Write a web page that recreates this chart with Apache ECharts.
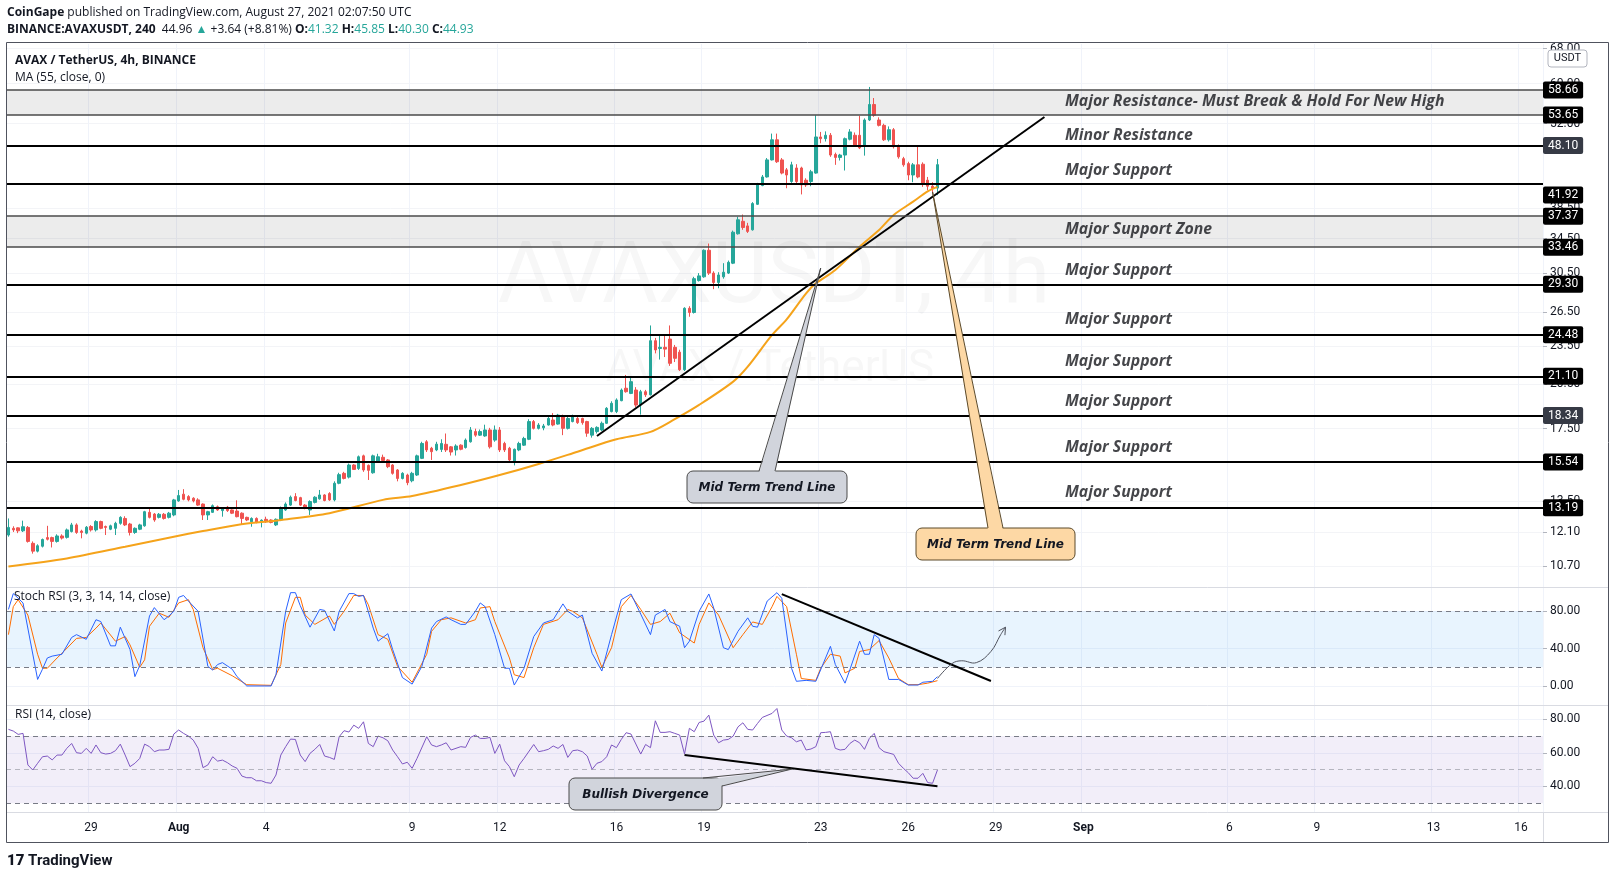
<!DOCTYPE html>
<html>
<head>
<meta charset="utf-8">
<script src="https://cdn.jsdelivr.net/npm/echarts@6/dist/echarts.min.js"></script>
<style>
  html, body { margin: 0; padding: 0; background: #fff; }
  #chart { width: 1615px; height: 878px; }
</style>
</head>
<body>
<div id="chart"></div>
<script>
// 4h candles, Jul 26 04:00 UTC onwards, [open, high, low, close]
const startTime = Date.UTC(2021, 6, 26, 4);
const slotCount = 316;
const candles = [
  [11.97,12.70,11.90,12.30],[12.26,12.35,12.10,12.19],[12.28,12.30,12.05,12.15],[12.15,12.60,12.10,12.33],
  [12.30,12.36,11.65,11.70],[11.62,11.70,11.20,11.30],[11.30,11.58,11.25,11.52],[11.50,11.82,11.45,11.78],
  [11.86,12.37,11.74,11.79],[11.86,11.90,11.45,11.70],[11.70,12.00,11.65,11.93],[11.93,12.00,11.78,11.84],
  [11.87,12.25,11.82,12.19],[12.12,12.50,12.08,12.41],[12.41,12.48,12.02,12.08],[12.14,12.20,11.83,12.08],
  [12.05,12.36,12.00,12.31],[12.34,12.40,12.12,12.19],[12.19,12.62,12.12,12.56],[12.56,12.60,12.22,12.26],
  [12.34,12.38,11.97,12.30],[12.22,12.42,12.18,12.37],[12.26,12.55,11.97,12.48],[12.48,12.80,12.42,12.75],
  [12.70,12.80,12.36,12.41],[12.45,12.50,11.95,12.08],[12.08,12.30,12.02,12.26],[12.22,12.46,12.18,12.41],
  [12.37,13.05,12.33,13.01],[12.98,13.17,12.70,12.75],[12.90,12.95,12.55,12.63],[12.75,12.95,12.70,12.89],
  [12.89,12.95,12.65,12.70],[12.75,13.00,12.70,12.94],[12.86,13.62,12.80,13.57],[13.52,14.06,13.48,13.78],
  [13.85,14.10,13.55,13.60],[13.73,13.80,13.50,13.57],[13.65,13.70,13.45,13.52],[13.57,13.65,13.28,13.32],
  [13.37,13.40,12.63,12.86],[12.86,13.05,12.63,13.01],[12.98,13.35,12.95,13.29],[13.24,13.30,13.05,13.09],
  [13.06,13.22,12.78,13.17],[13.22,13.28,13.00,13.06],[13.09,13.12,12.90,12.94],[13.04,13.55,12.75,12.78],
  [12.94,12.98,12.41,12.70],[12.75,12.78,12.58,12.63],[12.55,12.75,12.33,12.70],[12.70,12.75,12.48,12.52],
  [12.58,12.66,12.30,12.62],[12.66,12.78,12.50,12.55],[12.63,12.66,12.48,12.52],[12.41,12.70,12.36,12.66],
  [12.63,13.25,12.58,13.20],[13.09,13.45,13.05,13.37],[13.32,13.78,13.28,13.70],[13.73,13.90,13.50,13.54],
  [13.68,13.72,13.28,13.32],[13.32,13.37,13.12,13.17],[13.09,13.55,12.86,13.49],[13.45,13.75,13.40,13.70],
  [13.62,14.06,13.58,13.81],[13.81,13.85,13.50,13.54],[13.88,13.95,13.52,13.57],[13.57,14.50,13.50,14.40],
  [14.40,14.95,14.35,14.85],[14.92,15.00,14.60,14.65],[14.72,15.45,14.65,15.37],[15.37,15.42,15.10,15.13],
  [15.18,15.90,15.10,15.83],[15.88,15.95,15.00,15.10],[15.35,15.40,14.57,15.08],[14.95,15.95,14.90,15.88],
  [15.56,16.00,15.50,15.83],[15.80,15.95,15.55,15.62],[15.65,15.70,15.20,15.28],[15.37,15.42,14.85,14.92],
  [15.10,15.15,14.50,14.65],[14.65,14.98,14.60,14.92],[14.83,14.90,14.30,14.43],[14.53,15.00,14.45,14.92],
  [14.83,15.95,14.78,15.88],[15.74,16.70,15.70,16.60],[16.70,16.80,16.10,16.22],[16.32,16.40,15.65,16.12],
  [16.22,16.70,16.15,16.56],[16.25,16.85,16.10,16.60],[16.55,17.20,16.10,16.22],[16.40,16.45,15.90,16.10],
  [16.22,16.55,15.90,16.45],[16.50,16.55,16.20,16.26],[16.36,16.90,16.30,16.80],[16.70,17.60,16.65,17.42],
  [17.32,17.50,17.00,17.10],[17.10,17.45,17.05,17.32],[17.05,17.75,17.00,17.42],[17.42,17.55,16.30,16.40],
  [16.80,17.70,16.70,17.42],[17.42,17.60,16.10,16.22],[16.60,16.70,16.10,16.22],[16.32,16.40,15.50,15.65],
  [15.56,16.30,15.35,16.26],[16.22,16.70,16.15,16.60],[16.50,17.00,16.45,16.90],[16.85,18.10,16.80,17.95],
  [17.95,18.05,17.45,17.52],[17.52,17.85,17.45,17.73],[17.55,17.80,17.40,17.67],[17.73,18.30,17.70,18.15],
  [18.05,18.50,17.65,17.73],[17.79,18.45,17.75,18.37],[18.26,18.40,17.10,17.52],[17.52,18.30,17.45,18.15],
  [17.95,18.40,17.90,18.26],[18.15,18.30,17.80,17.88],[18.15,18.20,17.75,17.88],[17.95,18.00,17.00,17.22],
  [17.10,17.60,16.95,17.52],[17.32,17.65,17.20,17.58],[17.42,17.95,17.35,17.84],[17.84,18.90,17.80,18.82],
  [18.60,19.30,18.55,19.16],[18.60,19.50,18.50,19.39],[19.34,20.20,19.30,20.09],[20.22,21.20,19.90,19.97],
  [19.85,21.10,19.80,20.70],[20.09,20.30,18.90,19.04],[19.04,20.10,18.40,19.97],[19.97,20.10,19.60,19.75],
  [19.75,25.30,19.70,23.96],[23.96,24.20,22.90,23.18],[23.30,24.50,22.40,23.40],[23.40,24.40,22.60,23.25],
  [24.10,25.30,21.90,22.10],[23.40,23.60,22.20,22.50],[23.00,23.20,21.50,21.60],[21.60,27.00,21.50,26.90],
  [26.90,27.10,26.10,26.50],[26.50,30.10,26.40,29.90],[29.70,30.50,29.60,30.20],[30.10,33.20,30.00,33.10],
  [33.10,33.90,30.30,30.50],[30.50,30.70,28.80,29.50],[29.50,30.60,28.90,30.30],[30.10,31.60,29.90,30.60],
  [30.50,31.90,30.40,31.70],[31.60,35.50,31.50,35.30],[35.10,37.30,35.00,36.90],[36.70,37.60,35.60,35.90],
  [36.10,36.50,35.20,35.40],[35.60,39.30,35.50,39.10],[39.00,42.10,38.90,41.90],[41.70,43.30,41.60,43.00],
  [43.00,46.00,42.90,45.70],[45.70,50.20,45.60,49.10],[49.10,50.20,45.20,45.40],[45.70,46.00,43.40,43.60],
  [44.10,44.40,41.30,43.30],[42.30,45.40,42.10,44.90],[44.40,45.00,42.00,42.30],[44.40,44.60,40.40,41.80],
  [42.50,42.80,41.50,41.80],[42.30,44.10,41.60,43.80],[43.60,53.60,43.50,49.60],[49.60,50.50,48.50,49.30],
  [49.30,50.60,48.80,49.90],[49.90,50.30,46.20,46.50],[46.60,46.90,44.90,46.10],[46.10,46.70,45.60,46.50],
  [46.50,49.50,44.00,49.30],[49.20,51.00,49.00,50.50],[49.90,50.40,48.00,48.20],[49.90,53.50,47.50,47.70],
  [48.20,53.00,46.40,52.70],[52.70,59.30,52.50,55.70],[55.70,57.00,53.30,53.60],[52.70,53.20,51.50,51.70],
  [51.70,52.00,48.90,49.10],[49.10,51.50,48.80,50.90],[50.90,51.20,47.60,47.90],[48.00,48.30,45.90,46.20],
  [45.90,46.20,44.60,44.90],[45.10,45.40,42.50,43.30],[43.30,45.20,42.20,44.90],[44.90,48.00,42.80,43.00],
  [45.00,45.30,41.50,41.90],[42.50,43.00,41.00,41.60],[41.60,42.20,40.60,41.29],[41.32,45.85,40.30,44.93]
];

// MA(55) read at candle indexes
const maPoints = [[0,10.70],[12,11.01],[24,11.48],[34,11.90],[40,12.14],[47,12.41],[56,12.63],[66,12.94],
  [77,13.57],[83,13.76],[93,14.31],[101,14.83],[109,15.43],[117,16.12],[125,16.85],[132,17.30],[137,18.10],
  [142,19.05],[149,20.70],[152,21.84],[157,24.46],[160,25.86],[164,28.38],[166,29.41],[170,30.84],
  [175,33.52],[179,35.58],[182,37.54],[186,39.37],[189,40.84],[191,41.50]];

const stochK = [[0,82],[1,99],[2,94],[3,89],[6,7],[7,18],[8,30],[9,32],[11,34],[13,52],[14,55],[16,50],[18,71],
  [19,69],[21,43],[22,43],[23,63],[25,39],[26,10],[27,22],[29,75],[30,84],[32,71],[33,75],[34,80],[35,95],
  [36,97],[37,91],[39,80],[41,21],[42,17],[43,23],[44,25],[46,18],[47,10],[49,0],[54,0],[55,12],[57,80],
  [58,100],[59,100],[60,86],[62,63],[64,82],[65,81],[67,59],[68,80],[70,99],[71,99],[72,96],[73,97],[75,62],
  [76,48],[78,56],[79,39],[81,9],[83,2],[85,21],[87,62],[88,69],[90,74],[91,71],[93,66],[94,66],[96,80],
  [97,89],[98,85],[100,55],[102,19],[103,19],[104,1],[106,19],[108,53],[110,67.5],[112,71],[114,88],[115,80],
  [117,73],[118,76],[120,35],[122,16],[124,55],[126,92.5],[128,98.6],[130,77],[132,55],[133,76],[135,82],
  [136,69],[138,64],[139,41],[140,48],[142,80],[144,98.6],[145,83.6],[147,41],[148,39],[150,58.6],[152,73],
  [153,64],[154,63],[156,91],[158,100],[159,94],[161,19],[162,5],[164,6],[166,5],[169,42.5],[170,23],[172,3],
  [173,17.5],[175,48],[176,34],[177,34],[178,55],[179,51],[181,7],[183,7],[185,1],[187,1],[188,4],[190,5],[191,10]];

const stochD = [[0,55],[1,85],[2,92.5],[4,76],[6,34],[7,19],[8,19],[10,30],[11,35],[14,51],[16,52],[18,62],
  [19,67.5],[22,48],[24,53],[25,44],[27,20],[28,28],[29,64],[31,78],[33,73.6],[35,89],[37,92.5],[38,82],[40,41],
  [42,17.5],[43,19],[46,11],[49,1.4],[54,0.7],[56,23],[57,67.5],[59,95],[60,95],[61,76],[63,66],[66,75],[67,66],
  [69,80],[71,97],[73,97],[74,87],[76,55],[78,50],[80,21],[83,4],[86,34],[87,58.6],[89,71],[91,73],[94,67.5],
  [96,71],[97,83.6],[99,85],[100,69],[103,30],[104,12],[106,9],[108,41],[110,66],[113,71],[115,82],[116,80],
  [118,73],[121,34],[122,20],[124,41],[126,85],[128,97],[130,82],[132,66],[134,69],[136,78],[138,57],[141,46],
  [142,66],[144,89],[146,76],[149,41],[151,55],[153,68.6],[155,66],[157,85],[158,96],[160,85],[162,34],[163,8],
  [166,6],[167,19],[169,34],[171,32],[172,14],[174,19],[175,37],[177,39],[179,48.6],[181,30],[183,8],[185,1.4],
  [187,1.4],[189,3],[191,5.7]];

const rsiPoints = [[0,74],[1,73],[2,71],[3,71.6],[4,52.8],[5,49.8],[6,53.8],[7,57.7],[8,58.1],[9,55.8],[10,58.7],
  [11,58.7],[12,62.7],[13,65.6],[14,60.1],[15,59.7],[16,62.7],[17,59.7],[18,64.7],[19,60.1],[20,59.3],[21,59.7],
  [22,61.3],[23,65.2],[24,58.7],[25,51.8],[26,53.8],[27,56.7],[28,65.2],[29,63.7],[30,60.7],[31,61.7],[32,61.7],
  [33,62.1],[34,71.2],[35,73.6],[36,71.6],[37,70],[38,67.6],[39,62.7],[40,51.2],[41,52.8],[42,57.7],[43,55.1],
  [44,55.7],[45,54.2],[46,52.2],[47,50.8],[48,46.2],[49,45.2],[50,45.2],[51,43.4],[52,43.4],[53,42.3],[54,41.9],
  [55,46.8],[56,58.7],[57,63.7],[58,68.2],[59,68],[60,58.7],[61,54.8],[62,59.7],[63,62.1],[64,65],[65,58.1],
  [66,57.3],[67,56.1],[68,69.6],[69,73.2],[70,72.4],[71,76.5],[72,74.6],[73,78.5],[74,65.6],[75,63.7],[76,70],
  [77,69],[78,67.2],[79,61.7],[80,57.7],[81,53.4],[82,54.4],[83,50.8],[84,56.7],[86,69.6],[87,64.7],[88,63.7],
  [89,64.7],[90,66],[91,61.7],[93,63.7],[94,63.3],[95,69.2],[96,70.6],[97,68.6],[98,68.6],[99,69.2],[100,59.7],
  [101,65.2],[102,55.3],[103,51.8],[104,45.8],[105,52.8],[106,56.7],[108,65],[109,60.7],[110,61.3],[111,62.1],
  [112,64.1],[113,62.7],[114,65],[115,57.3],[116,61.3],[117,61.7],[118,60.7],[119,58.1],[120,50.2],[121,53.8],
  [122,54.8],[123,57.7],[124,64.7],[125,63.1],[126,68],[127,72],[128,71.2],[130,59.3],[131,65],[132,63.1],
  [133,79.1],[134,72.2],[135,72.2],[136,72.6],[137,71.6],[138,70.6],[139,59.3],[140,74.6],[141,72.6],[142,78.1],
  [143,78.9],[144,82.5],[145,70.6],[146,66],[147,67.6],[148,68],[149,70],[150,75.5],[151,77.9],[152,74],
  [153,73.6],[154,77.5],[155,81.1],[157,83.5],[158,86.4],[159,73.6],[160,70],[161,69],[162,66.6],[163,67.6],
  [164,61.7],[165,62.3],[166,63.7],[167,72],[168,72.2],[169,72.6],[170,62.7],[171,61.7],[172,62.1],[173,65.6],
  [174,67.6],[175,66],[176,62.1],[177,68.6],[178,71.6],[179,63.1],[180,60.7],[182,59.1],[183,53.8],[184,50.8],
  [185,48.2],[186,44.9],[187,44.9],[188,47.8],[189,42.3],[190,41.9],[191,49.8]];

const levels = [58.66, 53.65, 48.10, 41.92, 37.37, 33.46, 29.30, 24.48, 21.10, 18.34, 15.54, 13.19];
const zoneLevels = [58.66, 53.65, 37.37, 33.46];
const zones = [[53.65, 58.66], [33.46, 37.37]];
const lastPrice = 44.93;
const lastTimer = '01:52:12';
const priceTicks = [68, 60, 52, 38.5, 34.5, 30.5, 26.5, 23.5, 20.5, 17.5, 13.5, 12.1, 10.7];
const notes = [
  ['Major Resistance- Must Break & Hold For New High', 56.2],
  ['Minor Resistance', 49.95],
  ['Major Support', 44.08],
  ['Major Support Zone', 35.58],
  ['Major Support', 30.84],
  ['Major Support', 25.80],
  ['Major Support', 22.21],
  ['Major Support', 19.25],
  ['Major Support', 16.39],
  ['Major Support', 13.91]
];
const priceTrend = [[121, 17.05], [213, 53.27]];
const stochTrend = [[159, 98.5], [202, 5.3]];
const rsiTrend = [[139, 58.7], [191, 40.1]];
const stochArrow = [[191, 8], [194, 24], [196, 27], [199, 25], [202, 37], [204, 55], [205, 63]];
const dateLabels = {
  '2021-07-29': '29', '2021-08-01': 'Aug', '2021-08-04': '4', '2021-08-09': '9', '2021-08-12': '12',
  '2021-08-16': '16', '2021-08-19': '19', '2021-08-23': '23', '2021-08-26': '26', '2021-08-29': '29',
  '2021-09-01': 'Sep', '2021-09-06': '6', '2021-09-09': '9', '2021-09-13': '13', '2021-09-16': '16'
};

const ln = Math.log;
const categories = [];
for (let i = 0; i < slotCount; i++) {
  categories.push(new Date(startTime + i * 4 * 3600 * 1000).toISOString().slice(0, 13));
}
const isLabelSlot = (idx, val) => val.slice(11, 13) === '00' && dateLabels[val.slice(0, 10)] !== undefined;

const chart = echarts.init(document.getElementById('chart'));
const FONT = 'Roboto, "Noto Sans", sans-serif';
const gridLine = { show: true, interval: isLabelSlot, lineStyle: { color: '#f0f3fa', width: 1 } };

function xAxisFor(gridIndex, showLabels) {
  return {
    type: 'category', gridIndex, data: categories, boundaryGap: true,
    axisLine: { show: false }, axisTick: { show: false },
    axisLabel: {
      show: showLabels, interval: isLabelSlot, margin: 10, fontSize: 12, color: '#131722', fontFamily: FONT,
      formatter: v => {
        const t = dateLabels[v.slice(0, 10)];
        return /[A-Z]/.test(t) ? '{m|' + t + '}' : t;
      },
      rich: { m: { fontWeight: 'bold', fontSize: 12, color: '#131722', fontFamily: FONT } }
    },
    splitLine: gridLine
  };
}

const levelLines = levels.map(p => {
  const zone = zoneLevels.includes(p);
  const grey = p === 48.10 || p === 18.34;
  return {
    yAxis: ln(p), name: p.toFixed(2),
    lineStyle: { color: zone ? '#4a4a4a' : '#000', width: zone ? 1.5 : 2, type: 'solid' },
    label: {
      backgroundColor: grey ? '#363a45' : '#000',
      offset: p === 41.92 ? [0, 11] : [0, 0]
    }
  };
});
levelLines.push({
  yAxis: ln(lastPrice), name: lastPrice.toFixed(2) + '\n' + lastTimer,
  lineStyle: { opacity: 0 },
  label: { backgroundColor: '#26a69a', offset: [0, 8], lineHeight: 14, padding: [1, 7, 1, 5] }
});

const option = {
  animation: false,
  backgroundColor: '#fff',
  textStyle: { fontFamily: FONT },
  grid: [
    { left: 6, right: 72, top: 44, height: 543 },
    { left: 6, right: 72, top: 588, height: 117 },
    { left: 6, right: 72, top: 705, height: 107 }
  ],
  xAxis: [xAxisFor(0, false), xAxisFor(1, false), xAxisFor(2, true)],
  yAxis: [
    {
      type: 'value', gridIndex: 0, position: 'right', min: ln(9.942), max: ln(69.13),
      axisLine: { show: false },
      axisTick: { show: true, length: 4, lineStyle: { color: '#b2b5be' }, customValues: priceTicks.map(ln) },
      axisLabel: { customValues: priceTicks.map(ln), formatter: v => Math.exp(v).toFixed(2), fontSize: 12, color: '#131722', margin: 7 },
      splitLine: { show: true, lineStyle: { color: '#f3f4f7' } }
    },
    {
      type: 'value', gridIndex: 1, position: 'right', min: -20.4, max: 105,
      axisLine: { show: false },
      axisTick: { show: true, length: 4, lineStyle: { color: '#b2b5be' }, customValues: [0, 40, 80] },
      axisLabel: { customValues: [0, 40, 80], formatter: v => v.toFixed(2), fontSize: 12, color: '#131722', margin: 7 },
      splitLine: { show: true, lineStyle: { color: '#f0f3fa' } }
    },
    {
      type: 'value', gridIndex: 2, position: 'right', min: 24.8, max: 88.5,
      axisLine: { show: false },
      axisTick: { show: true, length: 4, lineStyle: { color: '#b2b5be' }, customValues: [40, 60, 80] },
      axisLabel: { customValues: [40, 60, 80], formatter: v => v.toFixed(2), fontSize: 12, color: '#131722', margin: 7 },
      splitLine: { show: true, lineStyle: { color: '#f0f3fa' } }
    }
  ],
  series: [
    {
      type: 'candlestick', xAxisIndex: 0, yAxisIndex: 0, barWidth: 3,
      data: candles.map(([o, h, l, c]) => [ln(o), ln(c), ln(l), ln(h)]),
      itemStyle: { color: '#26a69a', color0: '#ef5350', borderColor: '#26a69a', borderColor0: '#ef5350', borderWidth: 1 },
      markArea: {
        silent: true,
        itemStyle: { color: 'rgba(0,0,0,0.075)' },
        data: zones.map(([a, b]) => [{ yAxis: ln(a) }, { yAxis: ln(b) }])
      },
      markLine: {
        silent: true, symbol: 'none', precision: 6,
        label: {
          show: true, position: 'end', distance: 0, formatter: '{b}', color: '#fff', fontSize: 12,
          padding: [3, 5, 2, 5], borderRadius: 2
        },
        data: levelLines
      }
    },
    {
      type: 'line', xAxisIndex: 0, yAxisIndex: 0, smooth: 0.3, showSymbol: false,
      data: maPoints.map(([i, v]) => [i, ln(v)]),
      lineStyle: { color: '#f5a31a', width: 2 }, z: 3
    },
    {
      type: 'line', xAxisIndex: 0, yAxisIndex: 0, showSymbol: false,
      data: priceTrend.map(([i, v]) => [i, ln(v)]),
      lineStyle: { color: '#000', width: 2 }, z: 4
    },
    {
      type: 'scatter', xAxisIndex: 0, yAxisIndex: 0, symbolSize: 0, silent: true, z: 6,
      data: notes.map(([t, p]) => ({ name: t, value: [217, ln(p)] })),
      label: {
        show: true, position: 'right', distance: 1, formatter: '{b}', fontSize: 15.8,
        fontStyle: 'italic', fontWeight: 'bold', fontFamily: '"Open Sans", sans-serif', color: '#16181d'
      }
    },
    {
      type: 'line', xAxisIndex: 1, yAxisIndex: 1, showSymbol: false, data: stochK,
      lineStyle: { color: '#2962ff', width: 1 }, z: 4,
      markArea: { silent: true, itemStyle: { color: 'rgba(33,150,243,0.1)' }, data: [[{ yAxis: 20 }, { yAxis: 80 }]] },
      markLine: {
        silent: true, symbol: 'none', label: { show: false },
        lineStyle: { color: '#787b86', type: [5, 4], width: 1 },
        data: [{ yAxis: 80 }, { yAxis: 20 }]
      }
    },
    {
      type: 'line', xAxisIndex: 1, yAxisIndex: 1, showSymbol: false, data: stochD,
      lineStyle: { color: '#ff6d00', width: 1 }, z: 3
    },
    {
      type: 'line', xAxisIndex: 1, yAxisIndex: 1, showSymbol: false, data: stochTrend,
      lineStyle: { color: '#000', width: 2 }, z: 5
    },
    {
      type: 'line', xAxisIndex: 2, yAxisIndex: 2, showSymbol: false, data: rsiPoints,
      lineStyle: { color: '#7e57c2', width: 1 }, z: 3,
      markArea: { silent: true, itemStyle: { color: 'rgba(126,87,194,0.1)' }, data: [[{ yAxis: 30 }, { yAxis: 70 }]] },
      markLine: {
        silent: true, symbol: 'none', label: { show: false },
        lineStyle: { color: '#787b86', type: [5, 4], width: 1 },
        data: [{ yAxis: 70 }, { yAxis: 30 }, { yAxis: 50, lineStyle: { color: 'rgba(120,123,134,0.5)' } }]
      }
    },
    {
      type: 'line', xAxisIndex: 2, yAxisIndex: 2, showSymbol: false, data: rsiTrend,
      lineStyle: { color: '#000', width: 2 }, z: 5
    }
  ]
};
chart.setOption(option);

// ---- drawings and decorations ----
const px = (grid, pt) => chart.convertToPixel({ gridIndex: grid }, pt);

function callout(box, edge, tip, fillPts, fill, stroke, text) {
  return [
    { type: 'rect', z: 60, shape: { x: box[0], y: box[1], width: box[2], height: box[3], r: 6 }, style: { fill, stroke, lineWidth: 1 } },
    { type: 'polygon', z: 61, shape: { points: fillPts.concat([tip]) }, style: { fill } },
    { type: 'polyline', z: 62, shape: { points: [edge[0], tip, edge[1]] }, style: { stroke, lineWidth: 1, fill: null } },
    { type: 'text', z: 63, x: box[0] + box[2] / 2, y: box[1] + box[3] / 2 + 1,
      style: { text, align: 'center', verticalAlign: 'middle', fontSize: 12, fontWeight: 'bold', fontStyle: 'italic',
        fontFamily: '"DejaVu Sans", sans-serif', fill: '#131722' } }
  ];
}

const g = [];
// watermark
g.push({ type: 'text', z: 0, x: 774, y: 280, silent: true,
  style: { text: 'AVAXUSDT, 4h', align: 'center', verticalAlign: 'middle', fontSize: 86, fontFamily: FONT, fill: 'rgba(19,23,34,0.035)' } });
g.push({ type: 'text', z: 0, x: 770, y: 370, silent: true,
  style: { text: 'AVAX / TetherUS', align: 'center', verticalAlign: 'middle', fontSize: 44, fontFamily: FONT, fill: 'rgba(19,23,34,0.035)' } });

// header
const hdrFont = '"Open Sans", sans-serif';
g.push({ type: 'text', x: 7, y: 13, style: {
  text: '{b|CoinGape} published on TradingView.com, August 27, 2021 02:07:50 UTC',
  fontSize: 12, fontFamily: hdrFont, fill: '#131722', verticalAlign: 'middle',
  rich: { b: { fontWeight: 'bold', fontSize: 12, fontFamily: hdrFont, fill: '#131722' } } } });
g.push({ type: 'text', x: 7, y: 30, style: {
  text: '{b|BINANCE:AVAXUSDT, 240}  44.96 {g|▲} +3.64 (+8.81%) {b|O:}{g|41.32} {b|H:}{g|45.85} {b|L:}{g|40.30} {b|C:}{g|44.93}',
  fontSize: 12, fontFamily: hdrFont, fill: '#131722', verticalAlign: 'middle',
  rich: {
    b: { fontWeight: 'bold', fontSize: 12, fontFamily: hdrFont, fill: '#131722' },
    g: { fontSize: 12, fontFamily: hdrFont, fill: '#26a69a' }
  } } });

// pane legends
g.push({ type: 'text', x: 15, y: 61, style: { text: 'AVAX / TetherUS, 4h, BINANCE', fontSize: 12, fontWeight: 'bold', fontFamily: hdrFont, fill: '#131722', verticalAlign: 'middle' } });
g.push({ type: 'text', x: 15, y: 78, style: { text: 'MA (55, close, 0)', fontSize: 12, fontFamily: hdrFont, fill: '#131722', verticalAlign: 'middle' } });
g.push({ type: 'text', x: 14, y: 597, z: 20, style: { text: 'Stoch RSI (3, 3, 14, 14, close)', fontSize: 12, fontFamily: hdrFont, fill: '#131722', verticalAlign: 'middle' } });
g.push({ type: 'text', x: 15, y: 715, z: 20, style: { text: 'RSI (14, close)', fontSize: 12, fontFamily: hdrFont, fill: '#131722', verticalAlign: 'middle' } });

// frame and pane separators
g.push({ type: 'rect', z: 40, silent: true, shape: { x: 6.5, y: 42.5, width: 1602, height: 800 }, style: { fill: null, stroke: '#50535e', lineWidth: 1 } });
[587.5, 705.5, 812.5].forEach(y => g.push({ type: 'line', z: 40, silent: true, shape: { x1: 7, y1: y, x2: 1608, y2: y }, style: { stroke: '#d9dbe2', lineWidth: 1 } }));
g.push({ type: 'line', z: 40, silent: true, shape: { x1: 1543.5, y1: 812, x2: 1543.5, y2: 842 }, style: { stroke: '#d9dbe2', lineWidth: 1 } });

// currency box
g.push({ type: 'rect', z: 45, shape: { x: 1548, y: 50, width: 39, height: 17, r: 3 }, style: { fill: '#fff', stroke: '#b2b5be', lineWidth: 1 } });
g.push({ type: 'text', z: 46, x: 1567.5, y: 58.5, style: { text: 'USDT', align: 'center', verticalAlign: 'middle', fontSize: 11, fontFamily: FONT, fill: '#131722' } });

// callouts
const tipA = px(0, [167, ln(31.06)]);
g.push(...callout([687, 471, 160, 32], [[759, 471], [775, 471]], tipA, [[759, 473], [775, 473]], '#d1d4dc', '#4a4a4a', 'Mid Term Trend Line'));
const tipB = px(0, [190, ln(40.75)]);
g.push(...callout([916, 528, 159, 32], [[988, 528], [1003, 528]], tipB, [[988, 530], [1003, 530]], '#fdd8a5', '#5c4a2a', 'Mid Term Trend Line'));
const tipC = px(2, [161, 50.3]);
g.push(...callout([569, 778, 153, 32], [[703, 778], [722, 786]], tipC, [[703, 780], [719, 781], [720, 786]], '#d1d4dc', '#4a4a4a', 'Bullish Divergence'));

// hand-drawn arrow on stoch pane
const arrowPts = stochArrow.map(p => px(1, p));
g.push({ type: 'polyline', z: 30, shape: { points: arrowPts, smooth: 0.4 }, style: { stroke: '#50535e', lineWidth: 1, fill: null } });
const a1 = arrowPts[arrowPts.length - 1], a0 = arrowPts[arrowPts.length - 2];
const ang = Math.atan2(a1[1] - a0[1], a1[0] - a0[0]);
const head = s => [a1[0] - 8 * Math.cos(ang + s), a1[1] - 8 * Math.sin(ang + s)];
g.push({ type: 'polyline', z: 30, shape: { points: [head(0.5), a1, head(-0.5)] }, style: { stroke: '#50535e', lineWidth: 1, fill: null } });

// logo
g.push({ type: 'text', x: 7, y: 861, style: {
  text: '{l|17} TradingView', fontSize: 15, fontWeight: 'bold', fontFamily: FONT, fill: '#131722', verticalAlign: 'middle',
  rich: { l: { fontSize: 15, fontWeight: 900, fontFamily: FONT, fill: '#131722' } } } });

chart.setOption({ graphic: g });
</script>
</body>
</html>
